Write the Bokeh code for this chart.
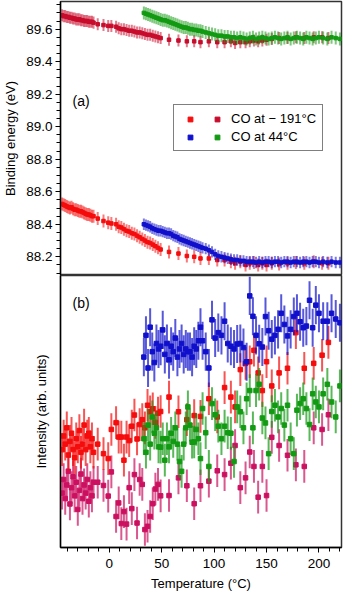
import numpy as np
from bokeh.plotting import figure
from bokeh.models import (Range1d, Label, Legend, LegendItem, FixedTicker, SingleIntervalTicker,
                          NumeralTickFormatter)
from bokeh.layouts import column
from bokeh.embed import file_html
from bokeh.resources import INLINE

# ---------------- data ----------------
# temperatures (°C) of the spectra, CO dosed at -191 °C
T_m191 = [-45, -43.5, -42, -40.5, -39, -37.5, -36, -34.5, -33, -31.5, -30, -28.5, -27, -25.5, -24,
          -22.5, -21, -19.5, -18, -16.5, -15,
          -11, -5.5, -1, 2, 6.5,
          9, 11.5, 14, 16.5, 19, 21.5, 24, 26.5, 29, 31.5, 34, 36.5, 39, 41.5, 44, 46.5, 49,
          57, 66, 74, 81, 87,
          95, 103, 110, 116, 120, 125, 130, 134, 138, 142, 146, 150, 155, 162, 170, 178, 186, 195, 203, 209]

# temperatures (°C) of the spectra, CO dosed at 44 °C
T_44 = [33, 35, 37, 39, 41, 43, 45, 47, 49, 51, 53, 55, 57, 59, 61, 63, 65, 67, 69, 71, 73, 75, 77, 79,
        81, 83, 85, 87, 89,
        92, 95, 98, 101, 104, 107, 110, 113, 116, 119, 122, 125, 128, 131, 134, 137, 140, 143, 146, 149,
        152, 155, 158, 161, 164, 167, 170, 173, 176, 179, 182, 185, 188, 191, 194, 197, 200,
        204, 208, 212, 216, 220]

# (a) binding energies (eV)
BE_m191_low = [88.525, 88.52, 88.515, 88.51, 88.505, 88.50, 88.505, 88.495, 88.49, 88.49, 88.485, 88.48,
               88.48, 88.475, 88.47, 88.465, 88.46, 88.46, 88.455, 88.45, 88.45,
               88.435, 88.42, 88.41, 88.405, 88.40,
               88.385, 88.38, 88.37, 88.36, 88.355, 88.345, 88.34, 88.33, 88.32, 88.31, 88.30, 88.29,
               88.285, 88.275, 88.265, 88.255, 88.245,
               88.23, 88.22, 88.205, 88.20, 88.19,
               88.19, 88.18, 88.18, 88.17, 88.16, 88.17, 88.15, 88.16, 88.165, 88.15, 88.16, 88.15,
               88.16, 88.155, 88.16, 88.165, 88.16, 88.17, 88.16, 88.16]
BE_m191_high = [89.685, 89.68, 89.68, 89.675, 89.675, 89.67, 89.67, 89.665, 89.665, 89.66, 89.66, 89.66,
                89.655, 89.655, 89.65, 89.65, 89.65, 89.645, 89.645, 89.645, 89.64,
                89.63, 89.625, 89.62, 89.62, 89.615,
                89.605, 89.60, 89.60, 89.595, 89.59, 89.59, 89.585, 89.58, 89.58, 89.575, 89.57, 89.565,
                89.565, 89.56, 89.555, 89.55, 89.545,
                89.535, 89.53, 89.525, 89.525, 89.52,
                89.525, 89.52, 89.52, 89.525, 89.515, 89.52, 89.52, 89.525, 89.53, 89.525, 89.53, 89.535,
                89.54, 89.545, 89.545, 89.55, 89.545, 89.55, 89.55, 89.545]
BE_44_low = [88.40, 88.395, 88.39, 88.385, 88.375, 88.37, 88.365, 88.36, 88.36, 88.355, 88.35, 88.345,
             88.345, 88.34, 88.33, 88.325, 88.32, 88.31, 88.305, 88.30, 88.295, 88.29, 88.285, 88.28,
             88.275, 88.27, 88.265, 88.26, 88.255,
             88.25, 88.24, 88.23, 88.215, 88.205, 88.20, 88.195, 88.19, 88.185, 88.18, 88.18, 88.175,
             88.175, 88.17, 88.17, 88.17, 88.165, 88.17, 88.165, 88.17, 88.17, 88.165, 88.17, 88.17,
             88.165, 88.17, 88.17, 88.165, 88.17, 88.17, 88.165, 88.17, 88.17, 88.165, 88.17, 88.17, 88.165,
             88.17, 88.165, 88.17, 88.165, 88.165]
BE_44_high = [89.70, 89.695, 89.69, 89.685, 89.68, 89.675, 89.67, 89.665, 89.66, 89.655, 89.655, 89.65,
              89.645, 89.64, 89.635, 89.63, 89.625, 89.62, 89.615, 89.61, 89.61, 89.605, 89.60, 89.60,
              89.595, 89.595, 89.59, 89.59, 89.585,
              89.58, 89.575, 89.57, 89.565, 89.56, 89.56, 89.555, 89.555, 89.55, 89.55, 89.545, 89.55,
              89.545, 89.54, 89.545, 89.55, 89.54, 89.545, 89.55, 89.545, 89.54, 89.545, 89.55, 89.545,
              89.54, 89.545, 89.55, 89.54, 89.545, 89.55, 89.545, 89.54, 89.55, 89.545, 89.54, 89.545, 89.55,
              89.545, 89.54, 89.55, 89.545, 89.54]
ERR_BE_m191_low = 0.04
ERR_BE_m191_high = 0.037
ERR_BE_44_low = 0.035
ERR_BE_44_high = 0.04

# (b) intensities (arb. units)
I_m191_low = [36, 41, 38, 44, 34, 39, 42, 36, 33, 40, 37, 43, 35, 38, 45, 36, 41, 42, 37, 40, 35,
              38, 34.5, 32.7, 43.4, 45.9,
              40.6, 40.6, 32.1, 40.6, 39.3, 44.6, 48.7, 39.9, 45.2, 47, 44, 52.3, 49.9, 51, 46, 49.4, 50,
              55.3, 49.9, 47, 48.5, 48.2,
              54.7, 48, 58.8, 55.3, 51.7, 65.4, 67.7, 68.3, 72.5, 64.2, 57.7, 68.3, 59.4, 64.2, 65.9, 79,
              65.9, 67.7, 70.7, 75.4]
I_m191_high = [20, 25, 18, 23, 28, 16, 22, 26, 19, 24, 14, 21, 27, 18, 23, 20, 25, 17, 22, 19, 24,
               24, 22.8, 18.9, 27.8, 11.4,
               16.4, 8.8, 13.2, 8.6, 22, 14.3, 26.8, 9, 25, 23.2, 6.6, 7.8, 11.4, 16.1, 21.5, 23.2, 19,
               19.1, 25.6, 22.7, 16.1, 22.7,
               24.4, 28.2, 26.8, 31, 37.5, 22, 25.6, 35.1, 29.8, 18.5, 29.8, 19.1, 40.5, 37.5, 33.9, 30.4,
               29.8, 44, 43.4, 48.8]
I_44_low = [70, 78, 66, 81, 72, 68, 75, 73, 74, 80, 71, 75, 69, 74, 72, 77, 70, 73, 75, 71, 73, 72, 72, 70,
            74, 73, 76, 81, 76,
            72, 66, 83.7, 77, 79, 78, 83.2, 75, 74, 73, 74.8, 75, 73.5, 68.3, 92.5, 85, 78, 74.9, 73.7, 84.9,
            79.7, 76.6, 78, 80.2, 86.1, 82, 77.8, 80.2, 84.9, 86.1, 83, 80.8, 81.4, 90.9, 80.8, 89.1, 86.1,
            83.2, 83.2, 86.1, 84, 82.6]
I_44_high = [40, 35, 45, 38, 48, 42, 44, 37, 36.9, 40, 32.1, 40, 37, 42, 39, 44, 38, 31.6, 28, 38, 44, 51.7,
             45, 38.7, 38.8, 43.4, 40, 32.7, 51.1,
             42.2, 29.8, 52.9, 48.8, 44.6, 40, 44.6, 42.2, 42, 31.6, 51.7, 49.9, 44, 54.7, 57.7, 44, 57.7, 60,
             47.6, 45.8, 34.5, 50, 52.3, 48, 51.1, 45, 52.3, 40, 34.5, 50.5, 52.9, 54.7, 51.1, 45.2, 56.5,
             53.5, 51.7,
             56.5, 60, 53.5, 48, 59.4]
ERR_I = 6.0
ERR_I_44_low = 7.0

LEGEND_LABELS = ["CO at \u2212 191\u00b0C", "CO at 44\u00b0C"]

# ---------------- style ----------------
FONT = "Liberation Sans"
C_RED = "#f50c0c"
C_CRIMSON_A = "#c80c2c"
C_CRIMSON_B = "#cc1060"
C_BLUE = "#1010cc"
C_GREEN = "#129a12"

xr = Range1d(-46.5, 221.5)


def style_axis(ax):
    ax.axis_line_color = "black"
    ax.axis_line_width = 1.3
    ax.major_tick_line_color = "black"
    ax.minor_tick_line_color = "black"
    ax.major_tick_in = 0
    ax.minor_tick_in = 0
    ax.major_tick_out = 5
    ax.minor_tick_out = 4
    ax.major_label_text_font = FONT
    ax.major_label_text_font_size = "13.5px"
    ax.major_label_text_color = "black"
    ax.axis_label_text_font = FONT
    ax.axis_label_text_font_size = "13px"
    ax.axis_label_text_font_style = "normal"
    ax.axis_label_text_color = "black"


def series(p, T, v, err, color, size, alpha):
    T = np.asarray(T, float)
    v = np.asarray(v, float)
    p.segment(x0=T, y0=v - err, x1=T, y1=v + err, line_color=color, line_width=2, line_alpha=alpha)
    return p.scatter(T, v, marker="square", size=size, fill_color=color, line_color=color)


W = 344

# ---------------- panel (a) ----------------
p1 = figure(width=W, height=275, x_range=xr, y_range=Range1d(88.085, 89.77),
            output_backend="svg", toolbar_location=None,
            min_border_left=56, min_border_right=3, min_border_top=1, min_border_bottom=0)
p1.grid.visible = False
p1.xaxis.visible = False
p1.outline_line_color = "#333333"
p1.outline_line_width = 1.5
p1.yaxis.ticker = SingleIntervalTicker(interval=0.2, num_minor_ticks=4)
p1.yaxis.formatter = NumeralTickFormatter(format="0.0")
p1.yaxis.axis_label = "Binding energy (eV)"
style_axis(p1.yaxis[0])
p1.yaxis.major_label_standoff = 3
p1.yaxis.axis_label_standoff = 5

r_hi = series(p1, T_m191, BE_m191_high, ERR_BE_m191_high, C_CRIMSON_A, 3.5, 0.55)
r_lo = series(p1, T_m191, BE_m191_low, ERR_BE_m191_low, C_RED, 3.5, 0.55)
g_hi = series(p1, T_44, BE_44_high, ERR_BE_44_high, C_GREEN, 3.5, 0.55)
b_lo = series(p1, T_44, BE_44_low, ERR_BE_44_low, C_BLUE, 3.5, 0.55)

p1.add_layout(Label(x=-35, y=89.16, text="(a)", text_font=FONT, text_font_size="14px",
                    text_baseline="middle", text_color="black"))

legend = Legend(items=[LegendItem(label=" ", renderers=[r_lo]),
                       LegendItem(label=LEGEND_LABELS[0], renderers=[r_hi]),
                       LegendItem(label=" ", renderers=[b_lo]),
                       LegendItem(label=LEGEND_LABELS[1], renderers=[g_hi])],
                ncols=2, orientation="horizontal", location=(113, 124),
                border_line_color="black", border_line_width=1, background_fill_color="white",
                background_fill_alpha=1, label_text_font=FONT, label_text_font_size="13px",
                label_text_color="black", glyph_width=20, glyph_height=12, label_height=12,
                label_width=0, label_standoff=4, spacing=3, padding=6, margin=0)
p1.add_layout(legend)

# ---------------- panel (b) ----------------
p2 = figure(width=W, height=318, x_range=xr, y_range=Range1d(0, 100),
            output_backend="svg", toolbar_location=None,
            min_border_left=56, min_border_right=3, min_border_top=0, min_border_bottom=42)
p2.grid.visible = False
p2.outline_line_color = "#333333"
p2.outline_line_width = 1.5
p2.yaxis.ticker = FixedTicker(ticks=[])
p2.yaxis.axis_label = "Intensity (arb. units)"
style_axis(p2.yaxis[0])
p2.yaxis.axis_label_standoff = 12
p2.xaxis.ticker = SingleIntervalTicker(interval=50, num_minor_ticks=5)
p2.xaxis.axis_label = "Temperature (\u00b0C)"
style_axis(p2.xaxis[0])
p2.xaxis.major_label_standoff = 6

series(p2, T_m191, I_m191_high, ERR_I, C_CRIMSON_B, 4.5, 0.7)
series(p2, T_m191, I_m191_low, ERR_I, C_RED, 4.5, 0.7)
series(p2, T_44, I_44_high, ERR_I, C_GREEN, 4.5, 0.7)
series(p2, T_44, I_44_low, ERR_I_44_low, C_BLUE, 4.5, 0.7)

p2.add_layout(Label(x=-35, y=90, text="(b)", text_font=FONT, text_font_size="14px",
                    text_baseline="middle", text_color="black"))

layout = column(p1, p2, spacing=0)
open("out.html", "w").write(file_html(layout, INLINE))
